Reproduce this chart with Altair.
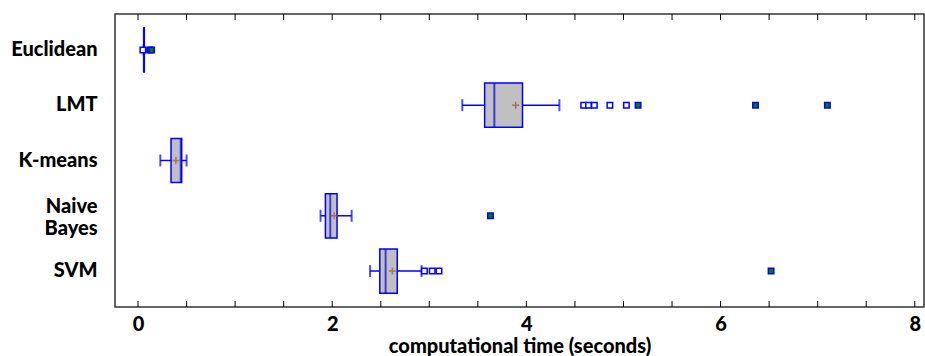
import altair as alt
import pandas as pd

methods = ["Euclidean", "LMT", "K-means", "Naive Bayes", "SVM"]
whisk_lo = [0.06, 3.34, 0.23, 1.88, 2.39]
q1 = [0.06, 3.57, 0.34, 1.93, 2.49]
median = [0.06, 3.67, 0.44, 1.98, 2.55]
q3 = [0.065, 3.96, 0.45, 2.05, 2.67]
whisk_hi = [0.06, 4.34, 0.50, 2.20, 2.92]
mean = [0.07, 3.89, 0.39, 2.02, 2.62]

near_method = ["Euclidean", "LMT", "LMT", "LMT", "LMT", "LMT", "SVM", "SVM", "SVM"]
near_value = [0.05, 4.59, 4.64, 4.70, 4.86, 5.03, 2.95, 3.03, 3.10]
far_method = ["Euclidean", "Euclidean", "LMT", "LMT", "LMT", "Naive Bayes", "SVM"]
far_value = [0.12, 0.14, 5.15, 6.36, 7.10, 3.63, 6.52]

tick_values = [i * 0.5 for i in range(17)]
label_values = [0, 2, 4, 6, 8]

box = pd.DataFrame({"method": methods, "lo": whisk_lo, "q1": q1, "med": median,
                    "q3": q3, "hi": whisk_hi, "mean": mean})
near = pd.DataFrame({"method": near_method, "v": near_value})
far = pd.DataFrame({"method": far_method, "v": far_value})
ticks = pd.DataFrame({"t": tick_values})

W, H = 809, 293
BLUE = "#0000ff"
FONT = "Lato"

xscale = alt.Scale(domain=[-0.237, 8.095], nice=False, zero=False)
yscale = alt.Scale(domain=methods, paddingInner=0, paddingOuter=0.15)

xaxis = alt.Axis(values=label_values, format="d", ticks=False, grid=False, domain=False,
                 labelFont=FONT, labelFontSize=20, labelFontWeight=900,
                 labelColor="black", labelPadding=7, labelFlush=False,
                 title="computational time (seconds)", titleFont=FONT,
                 titleFontSize=20, titleFontWeight=900, titleColor="black",
                 titlePadding=2)
yaxis = alt.Axis(ticks=False, grid=False, domain=False, title=None,
                 labelFont=FONT, labelFontSize=20, labelFontWeight=900,
                 labelColor="black", labelPadding=18, labelLineHeight=22,
                 labelOffset=alt.expr("datum.label == 'Naive Bayes' ? -9 : 0"),
                 labelExpr="datum.label == 'Naive Bayes' ? ['Naive', 'Bayes'] : datum.label")

base = alt.Chart(box)

whiskers = base.mark_rule(color=BLUE, strokeWidth=1.5).encode(
    x=alt.X("lo:Q", scale=xscale, axis=xaxis), x2="hi:Q",
    y=alt.Y("method:N", scale=yscale, axis=yaxis, sort=methods))

boxes = base.mark_bar(fill="#c0c0c0", stroke=BLUE, strokeWidth=1.5,
                      height=alt.RelativeBandSize(0.8)).encode(
    x=alt.X("q1:Q", scale=xscale), x2="q3:Q",
    y=alt.Y("method:N", scale=yscale, sort=methods))

med = base.mark_tick(color=BLUE, size=44, thickness=2, orient="vertical").encode(
    x=alt.X("med:Q", scale=xscale), y=alt.Y("method:N", scale=yscale, sort=methods))

cap_lo = base.mark_tick(color=BLUE, size=12, thickness=2, orient="vertical").encode(
    x=alt.X("lo:Q", scale=xscale), y=alt.Y("method:N", scale=yscale, sort=methods))
cap_hi = base.mark_tick(color=BLUE, size=12, thickness=2, orient="vertical").encode(
    x=alt.X("hi:Q", scale=xscale), y=alt.Y("method:N", scale=yscale, sort=methods))

means = base.mark_point(shape="M-1,0L1,0M0,-1L0,1", filled=False, color="#a0522d",
                        strokeWidth=1.5, size=50).encode(
    x=alt.X("mean:Q", scale=xscale), y=alt.Y("method:N", scale=yscale, sort=methods))

near_pts = alt.Chart(near).mark_point(shape="square", filled=False, color=BLUE,
                                      fill="white", fillOpacity=1,
                                      strokeWidth=1.5, size=30).encode(
    x=alt.X("v:Q", scale=xscale), y=alt.Y("method:N", scale=yscale, sort=methods))

far_pts = alt.Chart(far).mark_point(shape="square", filled=True, fill="#008000",
                                    stroke=BLUE, strokeWidth=1.5, size=30,
                                    opacity=1).encode(
    x=alt.X("v:Q", scale=xscale), y=alt.Y("method:N", scale=yscale, sort=methods))

bottom_ticks = alt.Chart(ticks).mark_rule(color="black", strokeWidth=1).encode(
    x=alt.X("t:Q", scale=xscale), y=alt.value(H - 6), y2=alt.value(H))
top_ticks = alt.Chart(ticks).mark_rule(color="black", strokeWidth=1).encode(
    x=alt.X("t:Q", scale=xscale), y=alt.value(0), y2=alt.value(6))

chart = alt.layer(whiskers, boxes, med, cap_lo, cap_hi, means, near_pts, far_pts,
                  bottom_ticks, top_ticks).properties(
    width=W, height=H,
    autosize=alt.AutoSizeParams(type="none"),
    padding={"left": 115, "top": 14, "right": 1, "bottom": 49},
    background="white",
).configure_view(stroke="#333333", strokeWidth=1.5)

chart.save("out.html", embed_options={"renderer": "svg", "actions": False})
